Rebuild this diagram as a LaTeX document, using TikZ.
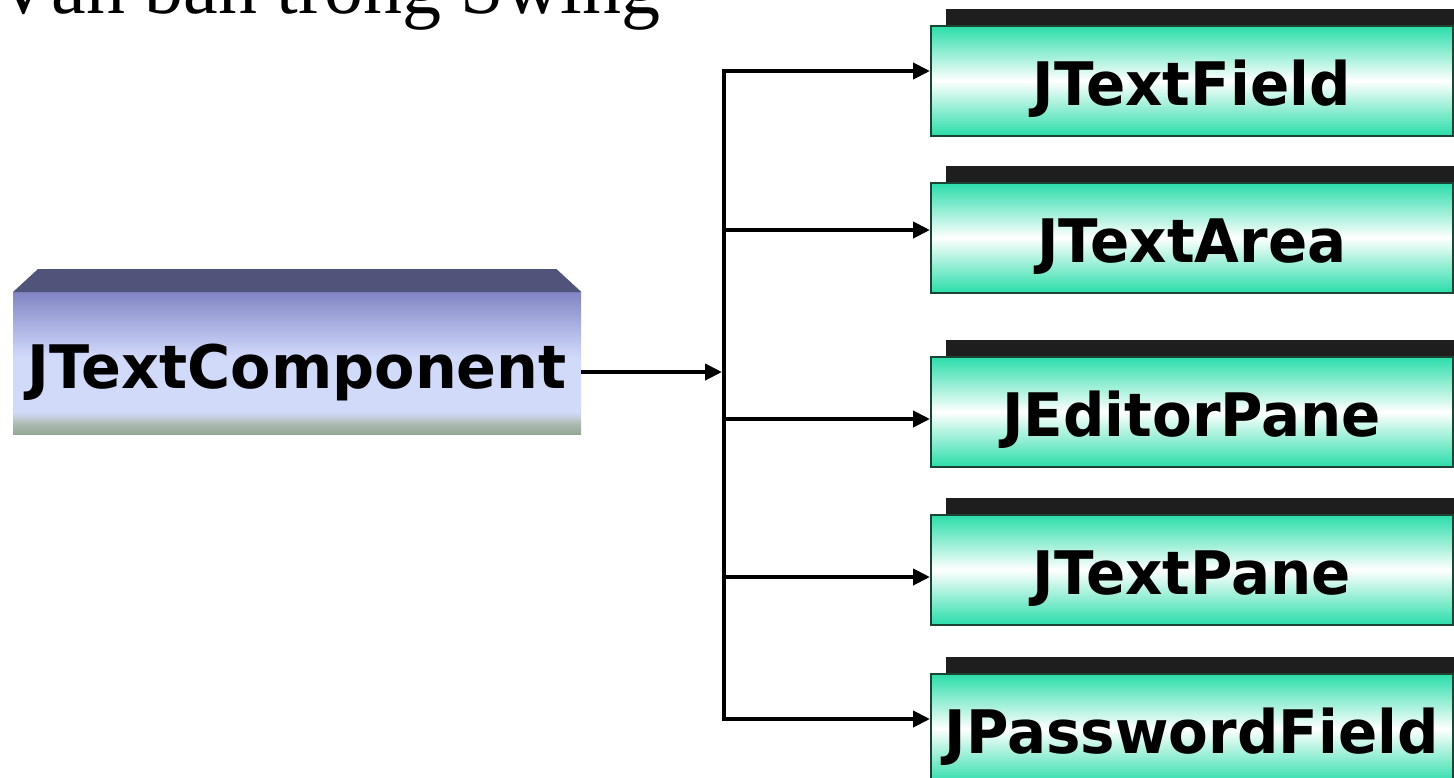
\documentclass[tikz,border=0pt]{standalone}
\usepackage{fontspec}
\setmainfont{Liberation Serif}
\newfontfamily\boxfont{DejaVu Sans}
\usetikzlibrary{arrows.meta,backgrounds,calc}

\definecolor{bevel}{HTML}{50547A}
\definecolor{backbar}{HTML}{1E1E1E}
\definecolor{mint}{HTML}{2ADDA9}
\definecolor{mintedge}{HTML}{1C4434}
\definecolor{f0}{HTML}{94A894}
\definecolor{f1}{HTML}{AEBCB4}
\definecolor{f2}{HTML}{C4CEDC}
\definecolor{f3}{HTML}{D2DAFA}
\definecolor{f4}{HTML}{ACB2E2}
\definecolor{f5}{HTML}{8285C2}

% face of the parent class box: lavender fading up to periwinkle, grey-green foot
\pgfdeclareverticalshading{jtcface}{100bp}{%
  color(0bp)=(f0); color(25bp)=(f0); color(29bp)=(f1); color(31bp)=(f2);
  color(33bp)=(f3); color(52bp)=(f3); color(63bp)=(f4); color(75bp)=(f5);
  color(100bp)=(f5)}

\newcommand\squeezed[2][0.965]{\scalebox{#1}[1]{#2}}

\begin{document}
\begin{tikzpicture}[x=1pt,y=-1pt,
  boxtext/.style={font=\boxfont\bfseries\fontsize{60}{60}\selectfont,
    text height=60pt, text depth=10pt, inner sep=0pt},
  parentbox/.style={rectangle, boxtext, minimum width=568pt, minimum height=142pt,
    shading=jtcface},
  leafbox/.style={rectangle, boxtext, minimum width=522pt, minimum height=110pt,
    draw=mintedge, line width=1.5pt, top color=mint, bottom color=mint,
    middle color=white},
  wire/.style={line width=4pt, line join=miter},
  tip/.tip={Triangle[length=17pt,width=16pt]},
]
\useasboundingbox (0,0) rectangle (1454,777);
\clip (0,0) rectangle (1454,777);

% slide title, only its lower part lies on the page
\node[anchor=base west, inner sep=0pt, font=\fontsize{78}{78}\selectfont]
  (title) at (-5,13) {Văn bản trong Swing};

% parent class with its bevelled top
\node[parentbox, anchor=north west] (jtc) at (13,292) {\squeezed[0.98]{JTextComponent}};
\fill[bevel] (jtc.north west) -- ++(25,-23) -- ($(jtc.north east)+(-25,-23)$)
  -- (jtc.north east) -- cycle;

% subclasses, each with a dark slab behind it
\foreach \name/\label/\top in {b1/JTextField/25, b2/JTextArea/182,
    b3/JEditorPane/356, b4/JTextPane/514, b5/JPasswordField/673}{
  \node[leafbox, anchor=north west] (\name) at (930,\top) {\squeezed{\label}};
  \begin{pgfonlayer}{background}
    \fill[backbar] ($(\name.north west)+(16,-16)$) rectangle ($(\name.south east)+(16,-16)$);
  \end{pgfonlayer}
}

% branch points on the trunk
\coordinate (t1) at (724,71);
\coordinate (t2) at (724,230);
\coordinate (t3) at (724,419);
\coordinate (t4) at (724,577);
\coordinate (t5) at (724,719);
\coordinate (tm) at (722,372);

\draw[wire,-tip] (jtc.east |- tm) -- (tm);
\draw[wire,tip-tip] (t1 -| b1.west) -- (t1) -- (t5) -- (t5 -| b5.west);
\draw[wire,-tip] (t2) -- (t2 -| b2.west);
\draw[wire,-tip] (t3) -- (t3 -| b3.west);
\draw[wire,-tip] (t4) -- (t4 -| b4.west);
\end{tikzpicture}
\end{document}
